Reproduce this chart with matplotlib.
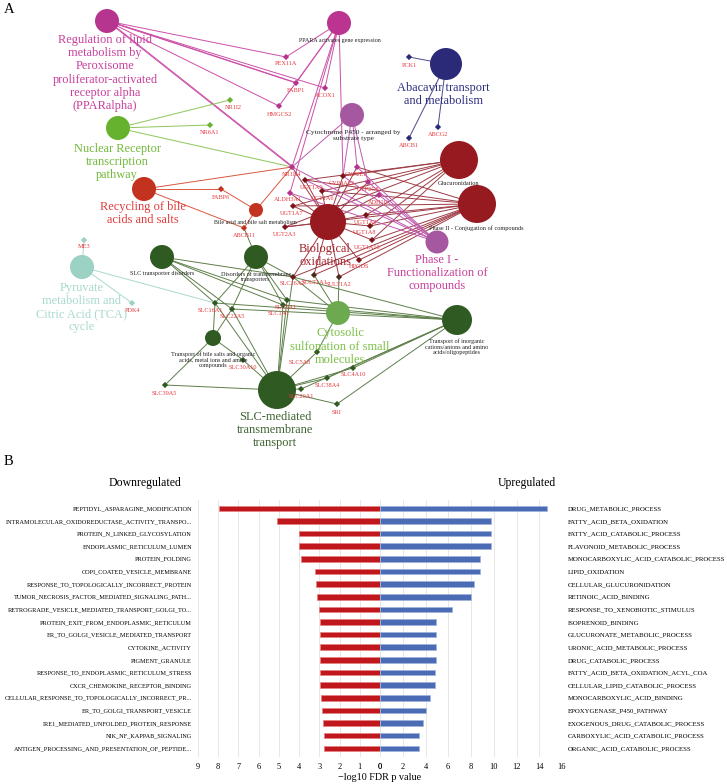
import numpy as np
import matplotlib
matplotlib.use("Agg")
import matplotlib.pyplot as plt

plt.rcParams['font.family'] = ['Liberation Serif', 'DejaVu Serif']

# ---------------- Panel B data ----------------
down_terms = ['PEPTIDYL_ASPARAGINE_MODIFICATION',
              'INTRAMOLECULAR_OXIDOREDUCTASE_ACTIVITY_TRANSPO...',
              'PROTEIN_N_LINKED_GLYCOSYLATION',
              'ENDOPLASMIC_RETICULUM_LUMEN',
              'PROTEIN_FOLDING',
              'COPI_COATED_VESICLE_MEMBRANE',
              'RESPONSE_TO_TOPOLOGICALLY_INCORRECT_PROTEIN',
              'TUMOR_NECROSIS_FACTOR_MEDIATED_SIGNALING_PATH...',
              'RETROGRADE_VESICLE_MEDIATED_TRANSPORT_GOLGI_TO...',
              'PROTEIN_EXIT_FROM_ENDOPLASMIC_RETICULUM',
              'ER_TO_GOLGI_VESICLE_MEDIATED_TRANSPORT',
              'CYTOKINE_ACTIVITY',
              'PIGMENT_GRANULE',
              'RESPONSE_TO_ENDOPLASMIC_RETICULUM_STRESS',
              'CXCR_CHEMOKINE_RECEPTOR_BINDING',
              'CELLULAR_RESPONSE_TO_TOPOLOGICALLY_INCORRECT_PR...',
              'ER_TO_GOLGI_TRANSPORT_VESICLE',
              'IRE1_MEDIATED_UNFOLDED_PROTEIN_RESPONSE',
              'NIK_NF_KAPPAB_SIGNALING',
              'ANTIGEN_PROCESSING_AND_PRESENTATION_OF_PEPTIDE...']
down_vals = [7.95, 5.08, 4.02, 4.02, 3.91, 3.22, 3.17, 3.10, 3.02, 2.97,
             2.97, 2.97, 2.97, 2.97, 2.97, 2.92, 2.87, 2.84, 2.76, 2.76]

up_terms = ['DRUG_METABOLIC_PROCESS',
            'FATTY_ACID_BETA_OXIDATION',
            'FATTY_ACID_CATABOLIC_PROCESS',
            'FLAVONOID_METABOLIC_PROCESS',
            'MONOCARBOXYLIC_ACID_CATABOLIC_PROCESS',
            'LIPID_OXIDATION',
            'CELLULAR_GLUCURONIDATION',
            'RETINOIC_ACID_BINDING',
            'RESPONSE_TO_XENOBIOTIC_STIMULUS',
            'ISOPRENOID_BINDING',
            'GLUCURONATE_METABOLIC_PROCESS',
            'URONIC_ACID_METABOLIC_PROCESS',
            'DRUG_CATABOLIC_PROCESS',
            'FATTY_ACID_BETA_OXIDATION_ACYL_COA',
            'CELLULAR_LIPID_CATABOLIC_PROCESS',
            'MONOCARBOXYLIC_ACID_BINDING',
            'EPOXYGENASE_P450_PATHWAY',
            'EXOGENOUS_DRUG_CATABOLIC_PROCESS',
            'CARBOXYLIC_ACID_CATABOLIC_PROCESS',
            'ORGANIC_ACID_CATABOLIC_PROCESS']
up_vals = [14.7, 9.8, 9.8, 9.8, 8.77, 8.77, 8.27, 8.04, 6.34, 4.94,
           4.94, 4.94, 4.94, 4.8, 4.8, 4.42, 4.0, 3.82, 3.42, 3.42]

down_ticks = [9, 8, 7, 6, 5, 4, 3, 2, 1, 0]
up_ticks = [0, 2, 4, 6, 8, 10, 12, 14, 16]

# ---------------- Panel A data (network layout) ----------------
term_ids = ['PPAR', 'PPARA_GE', 'ABAC', 'NR', 'CYP', 'RECY', 'BILE', 'BIO', 'GLUC',
            'PH2', 'PH1', 'PYR', 'SLCD', 'DTT', 'CYTO', 'INORG', 'BSALT', 'SLCM']
term_x = [107, 339, 446, 118, 352, 144, 256, 328, 459, 477, 437, 82, 162, 256, 338, 457, 213, 277]
term_y = [21, 23, 64, 128, 115, 189, 210, 222, 160, 204, 242, 267, 257, 257, 313, 320, 338, 390]
term_r = [12, 12, 16, 12, 12, 12, 7, 18, 19, 19, 11.5, 12, 12, 12, 12, 15, 8, 19]
term_col = ['#b6358e', '#bb3590', '#2a2a78', '#66b22e', '#a5579f', '#c2321e', '#c2321e',
            '#961a1f', '#961a1f', '#961a1f', '#a5579f', '#9bd2c4', '#2f5a21', '#2f5a21',
            '#6daa4f', '#2f5a21', '#2f5a21', '#2f5a21']
edge_col = {'PPAR': '#cc4fa8', 'PPARA_GE': '#cc4fa8', 'ABAC': '#4a4a8e', 'NR': '#8cc65a',
            'CYP': '#c05bb0', 'PH1': '#c05bb0', 'RECY': '#d9573f', 'BILE': '#d9573f',
            'BIO': '#9e3b45', 'GLUC': '#9e3b45', 'PH2': '#9e3b45', 'PYR': '#a8d9cd',
            'SLCD': '#5e7f4a', 'DTT': '#5e7f4a', 'CYTO': '#5e7f4a', 'INORG': '#5e7f4a',
            'BSALT': '#5e7f4a', 'SLCM': '#5e7f4a'}

# big coloured term labels: text, x, y(centre), colour
big_labels = [
    ('Regulation of lipid\nmetabolism by\nPeroxisome\nproliferator-activated\nreceptor alpha\n(PPARalpha)', 105, 73, '#c8409c'),
    ('Nuclear Receptor\ntranscription\npathway', 117, 162, '#72ba3a'),
    ('Recycling of bile\nacids and salts', 143, 213.5, '#e03b3b'),
    ('Abacavir transport\nand metabolism', 443, 94.5, '#2e2e80'),
    ('Biological\noxidations', 325, 255.5, '#a3232a'),
    ('Phase I -\nFunctionalization of\ncompounds', 437, 273, '#c8409c'),
    ('Pyruvate\nmetabolism and\nCitric Acid (TCA)\ncycle', 82, 307.5, '#a8d9cd'),
    ('Cytosolic\nsulfonation of small\nmolecules', 340, 346.5, '#7cbf45'),
    ('SLC-mediated\ntransmembrane\ntransport', 275, 430, '#3e6330'),
]
# small black term labels: text, x, y(centre), size
small_labels = [
    ('PPARA activates gene expression', 340, 40, 4.3),
    ('Cytochrome P450 - arranged by\nsubstrate type', 353, 135.5, 5.3),
    ('Glucuronidation', 459, 183, 4.5),
    ('Phase II - Conjugation of compounds', 476, 228, 4.5),
    ('Bile acid and bile salt metabolism', 255, 222, 4.3),
    ('SLC transporter disorders', 162, 273, 4.4),
    ('Disorders of transmembrane\ntransporters', 256, 277, 4.4),
    ('Transport of bile salts and organic\nacids, metal ions and amine\ncompounds', 213, 360, 4.4),
    ('Transport of inorganic\ncations/anions and amino\nacids/oligopeptides', 457, 347, 4.4),
]

gene_names = ['PEX11A', 'FABP1', 'ACOX1', 'HMGCS2', 'NR1I2', 'NR6A1', 'NR1H4', 'FABP6',
              'ABCB11', 'PCK1', 'ABCG2', 'ABCB1', 'ME3', 'PDK4', 'CYP2E1', 'CYP4A22',
              'UGT1A9', 'CYP2C8', 'UGT1A6', 'ALDH3A1', 'ADH1C', 'UGT1A7', 'UGT2A3',
              'UGT1A3', 'UGT1A8', 'UGT1A10', 'HPGDS', 'SULT1A1', 'SULT1A2', 'SLC26A2',
              'SLC5A1', 'SLC1A1', 'SLC16A1', 'SLC22A5', 'SLC30A10', 'SLC39A5', 'SLC5A8',
              'SLC4A10', 'SLC38A4', 'SLC20A1', 'SRI']
gene_x = [286, 296, 325, 279, 230, 210, 292, 221, 244, 409, 438, 409, 84, 132, 357, 343,
          305, 368, 322, 290, 379, 293, 285, 366, 370, 372, 359, 314, 339, 293,
          287, 283, 215, 232, 243, 165, 317, 353, 327, 301, 337]
gene_y = [57, 83, 88, 106, 100, 125, 167, 189, 228, 57, 127, 138, 240, 303, 167, 176,
          180, 182, 191, 193, 195, 206, 227, 215, 226, 240, 260, 275, 277, 277,
          300, 305, 303, 309, 360, 385, 352, 368, 378, 389, 404]
gene_lx = [286, 296, 325, 279, 233, 210, 292, 221, 244, 409, 438, 409, 84, 133, 356, 342,
           312, 368, 323, 288, 378, 292, 285, 366, 365, 367, 359, 314, 339, 292,
           286, 279, 210, 232, 243, 164, 300, 353, 327, 301, 337]
gene_ly = [63, 90, 95, 114, 107, 132, 174, 197, 235, 65, 134, 145, 246, 310, 174, 183,
           187, 189, 198, 199, 202, 213, 234, 222, 232, 247, 267, 282, 284, 283,
           307, 313, 310, 316, 367, 393, 362, 374, 385, 396, 412]
gene_col = ['#b5338c', '#b5338c', '#b5338c', '#b5338c', '#6ab22f', '#6ab22f', '#b5338c',
            '#c2321e', '#c2321e', '#2a2a78', '#2a2a78', '#2a2a78', '#9bd2c4', '#9bd2c4',
            '#b5338c', '#7a1418', '#7a1418', '#b5338c', '#7a1418', '#b5338c', '#b5338c',
            '#7a1418', '#7a1418', '#7a1418', '#7a1418', '#7a1418', '#7a1418', '#4a2a1a',
            '#4a2a1a', '#6b1a1a', '#2f5a21', '#2f5a21', '#2f5a21', '#2f5a21', '#2f5a21',
            '#2f5a21', '#2f5a21', '#2f5a21', '#2f5a21', '#2f5a21', '#2f5a21']

edges = {
    'PPAR': ['PEX11A', 'FABP1', 'FABP1', 'ACOX1', 'HMGCS2', 'NR1H4', 'NR1H4'],
    'PPARA_GE': ['PEX11A', 'FABP1', 'ACOX1', 'HMGCS2', 'NR1H4', 'CYP4A22', 'ALDH3A1'],
    'NR': ['NR1I2', 'NR6A1', 'NR1H4'],
    'RECY': ['NR1H4', 'FABP6', 'ABCB11'],
    'BILE': ['FABP6', 'NR1H4', 'ABCB11'],
    'CYP': ['NR1H4', 'CYP2E1', 'CYP4A22', 'CYP2C8'],
    'ABAC': ['PCK1', 'ABCG2', 'ABCB1'],
    'BIO': ['UGT1A9', 'UGT1A6', 'ALDH3A1', 'UGT1A7', 'UGT2A3', 'UGT1A3', 'UGT1A8',
            'UGT1A10', 'HPGDS', 'SULT1A1', 'SULT1A2', 'SLC26A2', 'CYP2E1', 'CYP4A22',
            'ADH1C', 'CYP2C8', 'NR1H4'],
    'GLUC': ['UGT1A9', 'UGT1A6', 'UGT1A7', 'UGT2A3', 'UGT1A3', 'UGT1A8', 'UGT1A10', 'CYP4A22'],
    'PH2': ['UGT1A9', 'UGT1A6', 'UGT1A7', 'UGT2A3', 'UGT1A3', 'UGT1A8', 'UGT1A10',
            'SULT1A1', 'SULT1A2', 'HPGDS', 'SLC26A2', 'CYP2E1'],
    'PH1': ['CYP2E1', 'CYP4A22', 'CYP2C8', 'ALDH3A1', 'ADH1C', 'NR1H4', 'UGT1A9'],
    'PYR': ['ME3', 'PDK4', 'SLC16A1'],
    'SLCD': ['SLC16A1', 'SLC22A5', 'SLC5A1', 'SLC1A1', 'SLC26A2'],
    'DTT': ['SLC16A1', 'SLC22A5', 'SLC26A2', 'SLC5A1', 'SLC1A1', 'ABCB11'],
    'CYTO': ['SULT1A1', 'SULT1A2', 'SLC26A2', 'SLC5A8'],
    'INORG': ['SLC26A2', 'SLC5A1', 'SLC1A1', 'SLC4A10', 'SLC38A4', 'SLC20A1', 'SRI',
              'SLC16A1', 'SLC22A5'],
    'BSALT': ['SLC16A1', 'SLC22A5', 'SLC30A10', 'SLC39A5'],
    'SLCM': ['SLC16A1', 'SLC22A5', 'SLC5A1', 'SLC1A1', 'SLC26A2', 'SLC30A10', 'SLC39A5',
             'SLC5A8', 'SLC4A10', 'SLC38A4', 'SLC20A1', 'SRI'],
}

W, H = 727, 784
fig = plt.figure(figsize=(W / 100, H / 100), dpi=100)
fig.patch.set_facecolor('white')

# network in a full-figure axes using pixel coordinates
ax = fig.add_axes([0, 0, 1, 1])
ax.set_xlim(0, W)
ax.set_ylim(H, 0)
ax.axis('off')

tpos = {t: (x, y) for t, x, y in zip(term_ids, term_x, term_y)}
gpos = {g: (x, y) for g, x, y in zip(gene_names, gene_x, gene_y)}

for t, genes in edges.items():
    x0, y0 = tpos[t]
    for k, g in enumerate(genes):
        x1, y1 = gpos[g]
        off = 1.2 if genes[:k].count(g) else 0
        ax.plot([x0 + off, x1 + off], [y0, y1], color=edge_col[t], lw=0.7, zorder=1)

# term circles (radius in px -> marker size in points^2)
sizes = [(2 * r * 0.72) ** 2 for r in term_r]
ax.scatter(term_x, term_y, s=sizes, c=term_col, edgecolors='none', zorder=3)
ax.scatter(gene_x, gene_y, s=10, c=gene_col, marker='D', edgecolors='none', zorder=4)

for g, lx, ly in zip(gene_names, gene_lx, gene_ly):
    ax.text(lx, ly, g, fontsize=4.5, color='#e8383d', ha='center', va='center', zorder=5)

for txt, x, y, c in big_labels:
    ax.text(x, y, txt, fontsize=8.9, color=c, ha='center', va='center',
            multialignment='center', linespacing=1.13, zorder=6)

for txt, x, y, fs in small_labels:
    ax.text(x, y, txt, fontsize=fs, color='#222222', ha='center', va='center',
            multialignment='center', linespacing=1.1, zorder=6)

ax.text(4, 9, 'A', fontsize=10.5, ha='left', va='center')
ax.text(4, 461, 'B', fontsize=10.5, ha='left', va='center')
ax.text(145, 483, 'Downregulated', fontsize=8.5, ha='center', va='center')
ax.text(527, 483, 'Upregulated', fontsize=8.5, ha='center', va='center')
ax.text(380, 778, '\u2212log10 FDR p value', fontsize=7.3, ha='center', va='center')

# ---------------- Panel B ----------------
rows = np.arange(len(down_terms))
bot, hgt = 1 - 756.5 / H, 256.4 / H
axL = fig.add_axes([198 / W, bot, 182 / W, hgt])
axR = fig.add_axes([380 / W, bot, 182 / W, hgt])

axL.barh(rows, down_vals, height=0.44, color='#c0171c', edgecolor='#e58080', linewidth=0.5, zorder=3)
axR.barh(rows, up_vals, height=0.44, color='#4b6cb4', edgecolor='#9fb3dd', linewidth=0.5, zorder=3)

axL.set_xlim(9, 0)
axR.set_xlim(0, 16)
for a in (axL, axR):
    a.set_ylim(19.65, -0.65)
    a.set_facecolor('none')
    for s in a.spines.values():
        s.set_visible(False)
    a.grid(axis='x', color='#e3e3e3', lw=0.6, zorder=0)
    a.tick_params(axis='x', length=0, labelsize=6, pad=5)
    a.tick_params(axis='y', length=0, pad=4.3)

axL.set_xticks(down_ticks)
axR.set_xticks(up_ticks)
axL.set_yticks(rows)
axL.set_yticklabels(down_terms, fontsize=4.5)
axR.set_yticks(rows)
axR.set_yticklabels(up_terms, fontsize=4.9)
axR.yaxis.tick_right()

fig.savefig('out.png', dpi=100)
